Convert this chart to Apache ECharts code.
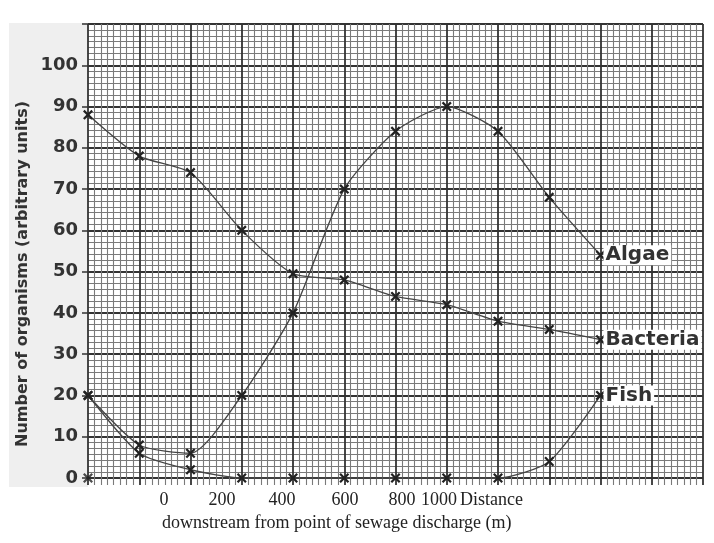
<!DOCTYPE html>
<html>
<head>
<meta charset="utf-8">
<script src="https://cdn.jsdelivr.net/npm/echarts@6/dist/echarts.min.js"></script>
<style>
  html, body { margin: 0; padding: 0; background: #fff; }
  #chart { width: 714px; height: 543px; }
</style>
</head>
<body>
<div id="chart"></div>
<script>
// sampling points along the river (grid columns)
const stations = [0, 1, 2, 3, 4, 5, 6, 7, 8, 9, 10];
const bacteria = [88, 78, 74, 60, 49.5, 48, 44, 42, 38, 36, 33.5];
const algae = [20, 8, 6, 20, 40, 70, 84, 90, 84, 68, 54];
const fish = [20, 6, 2, 0, 0, 0, 0, 0, 0, 4, 20];
const strayMark = [[0, 0]];

const yTickLabels = ["0", "10", "20", "30", "40", "50", "60", "70", "80", "90", "100"];
const xTickLabels = ["0", "200", "400", "600", "800", "1000"];

// where the printed distance labels sit under the grid (they do not line up with it)
const xTickLabelPos = [164, 222, 282, 345, 402, 439];

const chart = echarts.init(document.getElementById("chart"));

const sans = "DejaVu Sans";
const serif = "Liberation Serif";
const ink = "#333";
const major = { color: "#333", width: 1.8 };
const minor = { color: "#7a7a7a", width: 1.1 };
const cross = "path://M0,1.6L1.6,0L5,3.4L8.4,0L10,1.6L6.6,5L10,8.4L8.4,10L5,6.6L1.6,10L0,8.4L3.4,5Z";

function pairs(values) {
  return stations.map((s, i) => [s, values[i]]);
}

function curve(name, values) {
  return {
    name: name,
    type: "line",
    data: pairs(values),
    smooth: 0.22,
    clip: false,
    symbol: cross,
    symbolSize: 10,
    itemStyle: { color: "#222" },
    lineStyle: { color: "#444", width: 1.3 },
    endLabel: {
      show: true,
      formatter: "{a}",
      distance: 3,
      color: ink,
      fontFamily: sans,
      fontSize: 20,
      fontWeight: "bold",
      backgroundColor: "#fff",
      padding: [0, 2],
    },
  };
}

const graphics = [
  {
    type: "rect",
    z: -10,
    shape: { x: 9, y: 23, width: 79, height: 464 },
    style: { fill: "#efefef" },
  },
  {
    type: "text",
    x: 23,
    y: 274,
    rotation: Math.PI / 2,
    style: {
      text: "Number of organisms (arbitrary units)",
      fill: ink,
      font: "bold 16px " + sans,
      textAlign: "center",
      textVerticalAlign: "middle",
    },
  },
  {
    type: "text",
    x: 460,
    y: 500,
    style: { text: "Distance", fill: "#222", font: "18px " + serif, textVerticalAlign: "middle" },
  },
  {
    type: "text",
    x: 162,
    y: 523,
    style: {
      text: "downstream from point of sewage discharge (m)",
      fill: "#222",
      font: "18px " + serif,
      textVerticalAlign: "middle",
    },
  },
];
xTickLabels.forEach((t, i) => {
  graphics.push({
    type: "text",
    x: xTickLabelPos[i],
    y: 500,
    style: { text: t, fill: "#222", font: "18px " + serif, textAlign: "center", textVerticalAlign: "middle" },
  });
});

const option = {
  animation: false,
  backgroundColor: "#fff",
  grid: [
    { left: 88, right: 11, top: 24, height: 454 },
    { left: 88, right: 11, top: 24, height: 461 },
  ],
  xAxis: [
    {
      gridIndex: 0,
      type: "value",
      min: 0,
      max: 12,
      interval: 1,
      axisLine: { show: false },
      axisTick: { show: false },
      axisLabel: { show: false },
      splitLine: { show: false },
    },
    {
      gridIndex: 1,
      type: "value",
      min: 0,
      max: 12,
      interval: 1,
      axisLine: { show: false },
      axisTick: { show: false },
      axisLabel: { show: false },
      splitLine: { show: true, lineStyle: major },
      minorTick: { show: false, splitNumber: 8 },
      minorSplitLine: { show: true, lineStyle: minor },
    },
  ],
  yAxis: [
    {
      gridIndex: 0,
      type: "value",
      min: 0,
      max: 110,
      interval: 10,
      axisLine: { show: false },
      axisTick: { show: true, length: 6, lineStyle: { color: "#333", width: 1.5 } },
      axisLabel: {
        margin: 10,
        color: ink,
        fontFamily: sans,
        fontSize: 18,
        fontWeight: "bold",
        formatter: (v) => yTickLabels[v / 10] || "",
      },
      splitLine: { show: true, lineStyle: major },
      minorTick: { show: false, splitNumber: 7 },
      minorSplitLine: { show: true, lineStyle: minor },
    },
    {
      gridIndex: 1,
      type: "value",
      min: 0,
      max: 1,
      show: false,
    },
  ],
  graphic: graphics,
  series: [
    curve("Algae", algae),
    curve("Bacteria", bacteria),
    curve("Fish", fish),
    {
      name: "mark",
      type: "scatter",
      data: strayMark,
      symbol: cross,
      symbolSize: 10,
      clip: false,
      itemStyle: { color: "#222" },
    },
  ],
};

chart.setOption(option);
</script>
</body>
</html>
